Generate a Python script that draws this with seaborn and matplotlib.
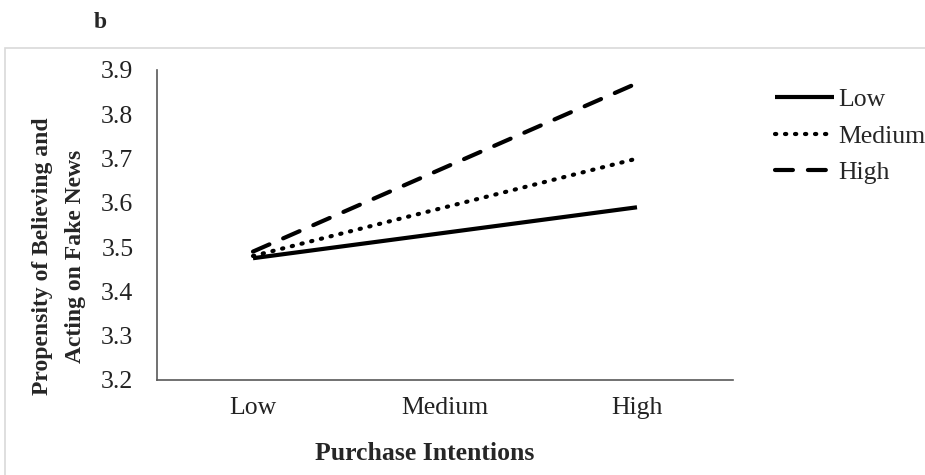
import matplotlib
matplotlib.use("Agg")
import matplotlib.pyplot as plt
from matplotlib.patches import Rectangle
from matplotlib.lines import Line2D
import pandas as pd
import seaborn as sns

# Simple-slope values at low and high purchase intentions
x_levels = ["Low", "Medium", "High"]
x_ends = ["Low", "High"]
moderator = ["Low", "Medium", "High"]
low_vals = [3.475, 3.59]
medium_vals = [3.48, 3.70]
high_vals = [3.49, 3.87]
y_ticks = [3.2, 3.3, 3.4, 3.5, 3.6, 3.7, 3.8, 3.9]

sns.set_theme(style="white")
plt.rcParams["font.family"] = ["Liberation Serif", "DejaVu Serif"]

pos = {name: i for i, name in enumerate(x_levels)}
rows = []
for grp, vals in zip(moderator, [low_vals, medium_vals, high_vals]):
    for xe, v in zip(x_ends, vals):
        rows.append({"x": pos[xe], "y": v, "group": grp})
df = pd.DataFrame(rows)

LW = 3.0
DOT = (0.3, 2.1)
DASH = (4.3, 3.6)

fig = plt.figure(figsize=(9.25, 4.75), dpi=100)
fig.patches.append(Rectangle((5 / 925, -0.1), 1.0, 1 - 48 / 475 + 0.1,
                             transform=fig.transFigure, fill=False,
                             edgecolor="#d9d9d9", linewidth=1.2))
fig.text(94 / 925, 1 - 22 / 475, "b", fontsize=17, fontweight="bold",
         va="center", ha="left")

ax = fig.add_axes([157 / 925, 1 - 380 / 475, (733 - 157) / 925, (380 - 70) / 475])
sns.lineplot(data=df, x="x", y="y", hue="group", style="group",
             hue_order=moderator, style_order=moderator,
             palette=["black"] * 3,
             dashes={"Low": "", "Medium": DOT, "High": DASH},
             linewidth=LW, ax=ax, legend=False)
for line in ax.get_lines():
    line.set_solid_capstyle("butt")
    line.set_dash_capstyle("round")

ax.set_xlim(-0.5, 2.5)
ax.set_ylim(3.2, 3.9)
ax.set_yticks(y_ticks)
ax.set_yticklabels([f"{t:.1f}" for t in y_ticks])
ax.set_xticks(range(len(x_levels)))
ax.set_xticklabels(x_levels)
ax.tick_params(axis="both", length=0, labelsize=18.5, colors="#222222")
ax.tick_params(axis="y", pad=17)
ax.tick_params(axis="x", pad=12)
for side in ["top", "right"]:
    ax.spines[side].set_visible(False)
for side in ["left", "bottom"]:
    ax.spines[side].set_color("#595959")
    ax.spines[side].set_linewidth(1.2)
ax.set_xlabel("Purchase Intentions", fontsize=18.5, fontweight="bold")
ax.xaxis.set_label_coords((425 - 157) / 576, -(453 - 380) / 310)
ax.xaxis.label.set_va("center")
ax.set_ylabel("Propensity of Believing and\nActing on Fake News", fontsize=17,
              fontweight="bold", linespacing=1.75)
ax.yaxis.set_label_coords(-(157 - 59) / 576, (380 - 256) / 310)
ax.yaxis.label.set_va("center")

# Legend to the right of the plot area
handles = [
    Line2D([], [], color="black", lw=LW, ls="-", solid_capstyle="butt"),
    Line2D([], [], color="black", lw=LW, ls=(0, DOT), dash_capstyle="round"),
    Line2D([], [], color="black", lw=LW, ls=(0, DASH), dash_capstyle="round"),
]
fig.legend(handles, moderator, loc="upper left",
           bbox_to_anchor=(765 / 925, 1 - 78 / 475), frameon=False,
           fontsize=18.5, handlelength=2.3, handletextpad=0.15,
           labelspacing=0.53, borderaxespad=0)

fig.savefig("out.png", dpi=100, facecolor="white")
